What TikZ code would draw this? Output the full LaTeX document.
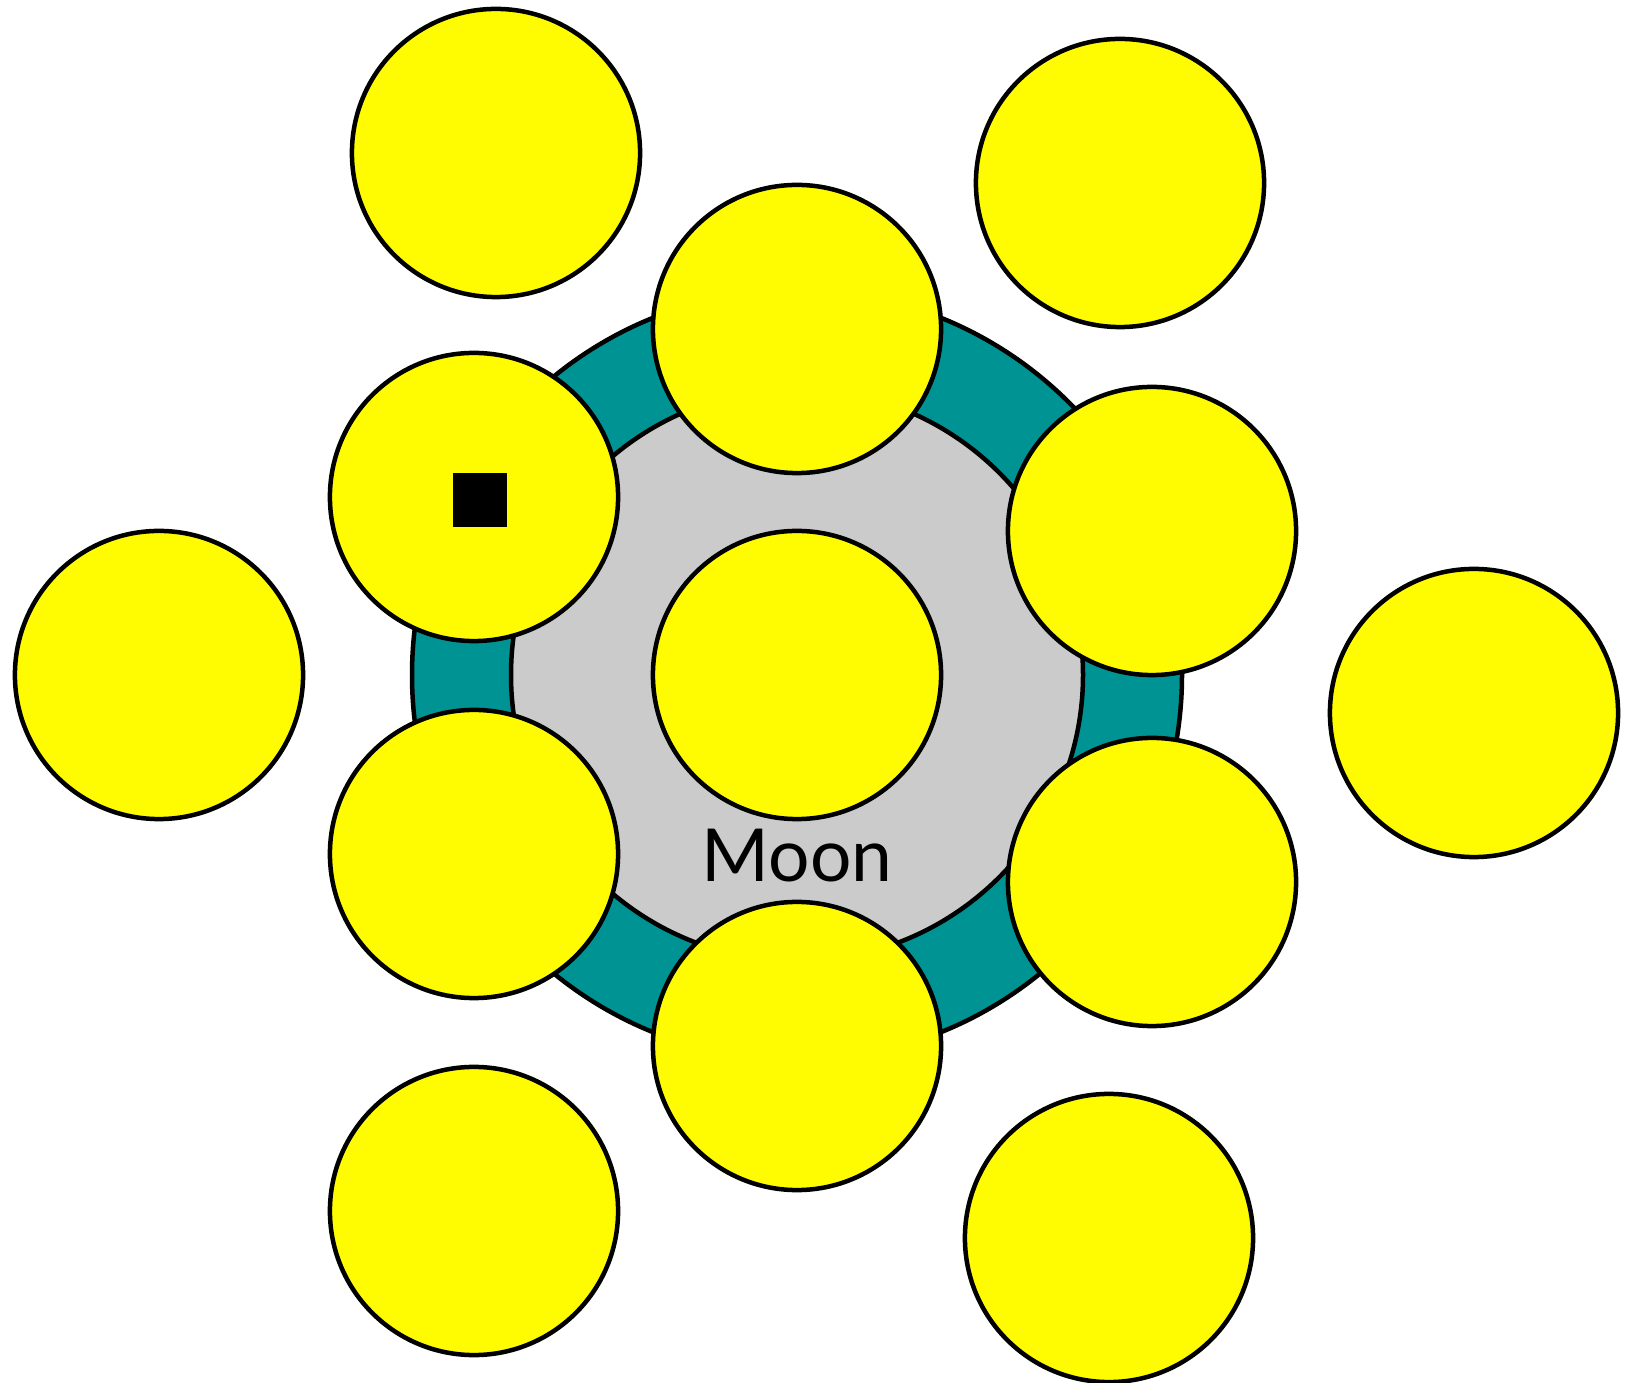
\documentclass[tikz,border=0pt]{standalone}
\usepackage{fontspec}
\setmainfont{Lato}
\definecolor{moonteal}{RGB}{0,147,147}
\definecolor{moongray}{RGB}{203,203,203}
\definecolor{ballyellow}{RGB}{255,251,0}
\begin{document}
\begin{tikzpicture}[x=0.01cm,y=-0.01cm,line width=0.045cm,
  ball/.style={circle,draw=black,fill=ballyellow,minimum size=2.88cm,inner sep=0pt}]
\useasboundingbox (0,0) rectangle (1627,1383);
\coordinate (M) at (797,675);
% moon: ring and inner disk
\draw[fill=moonteal] (M) circle (385);
\draw[fill=moongray] (M) circle (286);
\node[font=\fontsize{20.8}{24}\selectfont,anchor=base] (moon) at (797,882) {Moon};
% balls on the moon
\node[ball] (b0) at (M) {};
\node[ball] (b1) at (797,329) {};
\node[ball] (b2) at (474,497) {};
\node[ball] (b3) at (1152,531) {};
\node[ball] (b4) at (474,854) {};
\node[ball] (b5) at (1152,882) {};
\node[ball] (b6) at (797,1046) {};
% balls outside
\foreach \n/\p in {o1/{(496,153)},o2/{(1120,183)},o3/{(159,675)},o4/{(1474,713)},o5/{(474,1211)},o6/{(1109,1238)}}
  \node[ball] (\n) at \p {};
% marker
\fill[black] (453,473) rectangle (507,527);
\end{tikzpicture}
\end{document}
